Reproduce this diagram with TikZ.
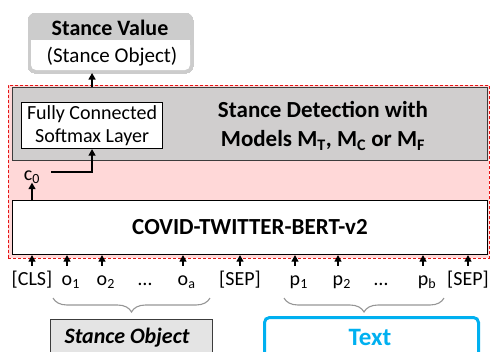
\documentclass[tikz,border=0pt]{standalone}
\usepackage{fontspec}
\setmainfont{Carlito}
\usetikzlibrary{arrows.meta,decorations.pathreplacing,calc}

\definecolor{zonered}{RGB}{230,20,20}
\definecolor{zonefill}{RGB}{255,216,216}
\definecolor{panelgray}{RGB}{208,206,206}
\definecolor{paneledge}{RGB}{60,60,60}
\definecolor{headgray}{RGB}{204,204,204}
\definecolor{objfill}{RGB}{228,228,228}
\definecolor{bracegray}{RGB}{150,150,150}
\definecolor{textcyan}{RGB}{0,176,240}

\tikzset{
  arr/.style={-{Triangle[length=6.5pt,width=7pt]}, line width=1.2pt},
  box/.style={draw, anchor=north west, inner sep=0pt},
  tok/.style={font=\fontsize{20}{22}\selectfont, anchor=base, inner sep=0pt,
              text height=19pt, text depth=0pt},
  grpbrace/.style={decorate, decoration={brace, mirror, amplitude=14pt},
                   draw=bracegray, line width=1.1pt},
}

\begin{document}
\begin{tikzpicture}[x=1pt,y=-1pt]
\useasboundingbox (0,0) rectangle (490,351);
\clip (0,0) rectangle (490,351);

% output: stance value
\node (sv) [box, draw=headgray, fill=headgray, line width=0pt, rounded corners=7pt,
  minimum width=165pt, minimum height=60pt] at (28,13) {};
\fill[white, rounded corners=5pt] (31,40) rectangle (190,70);
\fill[white] (31,40) rectangle (190,50);
\node (svtitle) at (110,28) {\fontsize{22}{24}\selectfont\bfseries Stance Value};
\node (svsub) at (112,57) {\fontsize{21}{23}\selectfont (Stance Object)};

% dashed zone around the model
\node (zone) [box, draw=zonered, fill=zonefill, densely dashed, line width=0.8pt,
  minimum width=481pt, minimum height=173pt] at (8,85) {};

% stance detection panel
\node (panel) [box, draw=paneledge, fill=panelgray, line width=1.2pt,
  minimum width=475pt, minimum height=73pt] at (12,87) {};
\node (fc) [box, fill=white, line width=1.1pt, minimum width=141pt, minimum height=46pt]
  at (21,102) {};
\node (fctext) [align=center, font=\fontsize{20}{23.5}\selectfont] at (fc.center)
  {Fully Connected\\Softmax Layer};
\node (title) [align=center, font=\fontsize{23}{29}\selectfont\bfseries] at (323,126)
  {Stance Detection with\\Models M\textsubscript{T}, M\textsubscript{C} or M\textsubscript{F}};

% encoder
\node (bert) [box, fill=white, line width=1.1pt, minimum width=475pt, minimum height=54pt]
  at (12,200) {};
\node (berttext) [font=\fontsize{23}{25}\selectfont\bfseries] at (250,227)
  {COVID-TWITTER-BERT-v2};

% classification token output
\node (c0) [font=\fontsize{20}{22}\selectfont, inner sep=0pt] at (32,177) {c\textsubscript{0}};
\coordinate (c0out) at (51,172);
\draw[arr] (c0out) -| (fc.south);
\draw[arr] (bert.north -| c0) -- ([yshift=1pt]c0.south);
\draw[arr] (fc.north |- panel.north) -- (fc.north |- sv.south);

% input tokens
\node (cls)  [tok] at (32,285)  {[CLS]};
\node (o1)   [tok] at (67,285)  {o\rlap{\textsubscript{1}}};
\node (o2)   [tok] at (102,285) {o\rlap{\textsubscript{2}}};
\node (odot) [tok] at (145,285) {…};
\node (oa)   [tok] at (183,285) {o\rlap{\textsubscript{a}}};
\node (sepa) [tok] at (240,285) {[SEP]};
\node (p1)   [tok] at (295,285) {p\rlap{\textsubscript{1}}};
\node (p2)   [tok] at (338,285) {p\rlap{\textsubscript{2}}};
\node (pdot) [tok] at (381,285) {…};
\node (pb)   [tok] at (423,285) {p\rlap{\textsubscript{b}}};
\node (sepb) [tok] at (468,285) {[SEP]};
\foreach \t in {cls,o1,o2,oa,sepa,p1,p2,pb,sepb}
  \draw[arr] (\t.north) -- (\t.north |- bert.south);

% groups of tokens
\coordinate (ob1) at (53,298);
\coordinate (ob2) at (210,298);
\coordinate (pb1) at (284,298);
\coordinate (pb2) at (444,298);
\draw[grpbrace] (ob1) -- (ob2);
\draw[grpbrace] (pb1) -- (pb2);

% sources
\node (obj) [box, draw=paneledge, fill=objfill, line width=1pt,
  minimum width=162pt, minimum height=50pt] at (50,319) {};
\node (objtext) [font=\fontsize{22}{24}\selectfont\bfseries\itshape] at (127,338) {Stance Object};
\node (txt) [box, draw=textcyan, line width=3pt, rounded corners=5pt,
  minimum width=214pt, minimum height=50pt] at (263,316) {};
\node (txttext) [font=\fontsize{25}{27}\selectfont\bfseries, text=textcyan] at (370,337) {Text};
\end{tikzpicture}
\end{document}
